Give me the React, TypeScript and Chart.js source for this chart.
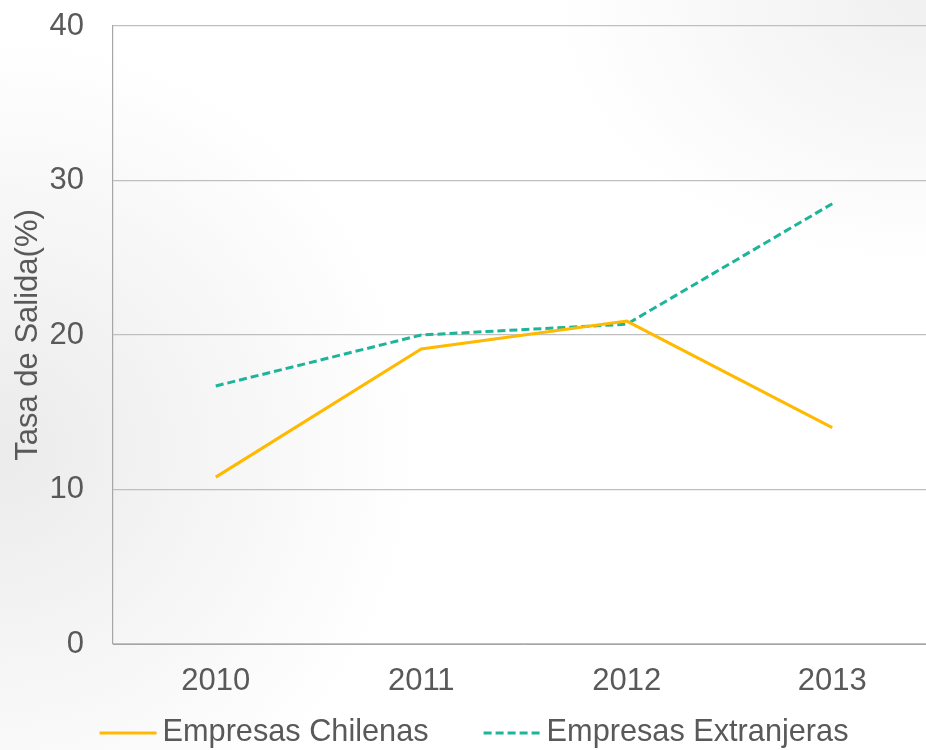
import React, { useEffect, useRef } from "react";
import { Chart, registerables } from "chart.js";

Chart.register(...registerables);

const categories = ["2010", "2011", "2012", "2013"];
const chilenas = [10.8, 19.1, 20.9, 14.0];
const extranjeras = [16.7, 20.0, 20.7, 28.5];
const seriesNames = ["Empresas Chilenas", "Empresas Extranjeras"];
const yTitle = "Tasa de Salida(%)";
const yMin = 0;
const yMax = 40;
const yStep = 10;

const FONT = "'Liberation Sans', Arial, sans-serif";
const TEXT = "#595959";
const FS = 31;

const customLegend = {
  id: "customLegend",
  afterDraw(chart: any) {
    const ctx = chart.ctx;
    const lineW = 57;
    const gapText = 6;
    const gapItems = 55;
    const y = 733;
    ctx.save();
    ctx.font = `30.7px ${FONT}`;
    const items = chart.data.datasets.map((ds: any) => ({
      ds,
      w: ctx.measureText(ds.label).width,
    }));
    let total = 0;
    items.forEach((it: any, i: number) => {
      total += lineW + gapText + it.w + (i > 0 ? gapItems : 0);
    });
    let x = 474 - total / 2;
    items.forEach((it: any) => {
      ctx.beginPath();
      ctx.setLineDash(it.ds.borderDash || []);
      ctx.lineWidth = it.ds.borderWidth;
      ctx.strokeStyle = it.ds.borderColor;
      ctx.moveTo(x, y);
      ctx.lineTo(x + lineW, y);
      ctx.stroke();
      ctx.setLineDash([]);
      ctx.fillStyle = TEXT;
      ctx.textBaseline = "middle";
      ctx.textAlign = "left";
      ctx.fillText(it.ds.label, x + lineW + gapText, y);
      x += lineW + gapText + it.w + gapItems;
    });
    ctx.restore();
  },
};

export default function App() {
  const ref = useRef<HTMLCanvasElement>(null);

  useEffect(() => {
    document.body.style.margin = "0";
    const canvas = ref.current!;
    const chart = new Chart(canvas, {
      type: "line",
      data: {
        labels: categories,
        datasets: [
          {
            label: seriesNames[0],
            data: chilenas,
            borderColor: "#FFB900",
            backgroundColor: "#FFB900",
            borderWidth: 3,
            pointRadius: 0,
            tension: 0,
            fill: false,
          },
          {
            label: seriesNames[1],
            data: extranjeras,
            borderColor: "#1DB59A",
            backgroundColor: "#1DB59A",
            borderWidth: 3,
            borderDash: [8, 4],
            pointRadius: 0,
            tension: 0,
            fill: false,
          },
        ],
      },
      options: {
        responsive: false,
        animation: false,
        devicePixelRatio: 1,
        layout: { padding: { top: 26, left: 0, right: 0, bottom: 0 } },
        plugins: {
          legend: { display: false },
          tooltip: { enabled: false },
        },
        scales: {
          x: {
            type: "category",
            offset: true,
            grid: { display: false, drawTicks: false },
            border: { display: true, color: "#A6A6A6", width: 1 },
            ticks: {
              color: TEXT,
              font: { family: FONT, size: FS },
              padding: 19,
              maxRotation: 0,
            },
            afterFit: (s: any) => {
              s.height = 106;
              s.paddingLeft = 0;
              s.paddingRight = 0;
            },
          },
          y: {
            min: yMin,
            max: yMax,
            ticks: {
              stepSize: yStep,
              color: TEXT,
              font: { family: FONT, size: FS },
              padding: 29,
            },
            grid: { color: "#BFBFBF", lineWidth: 1.2, drawTicks: false },
            border: { display: true, color: "#A6A6A6", width: 1.2 },
            title: {
              display: true,
              text: yTitle,
              color: TEXT,
              font: { family: FONT, size: FS },
              padding: { top: 10, bottom: 0 },
            },
            afterFit: (s: any) => {
              s.width = 113;
              s.paddingTop = 0;
              s.paddingBottom = 0;
            },
          },
        },
      },
      plugins: [customLegend],
    });
    return () => chart.destroy();
  }, []);

  return (
    <div
      style={{
        width: 926,
        height: 750,
        overflow: "hidden",
        position: "relative",
        background:
          "radial-gradient(ellipse 45% 55% at 0% 60%, #ebebeb 0%, rgba(255,255,255,0) 100%), radial-gradient(ellipse 40% 35% at 100% 0%, #f0f0f0 0%, rgba(255,255,255,0) 100%), #ffffff",
      }}
    >
      <canvas ref={ref} width={935} height={750} style={{ display: "block" }} />
    </div>
  );
}
